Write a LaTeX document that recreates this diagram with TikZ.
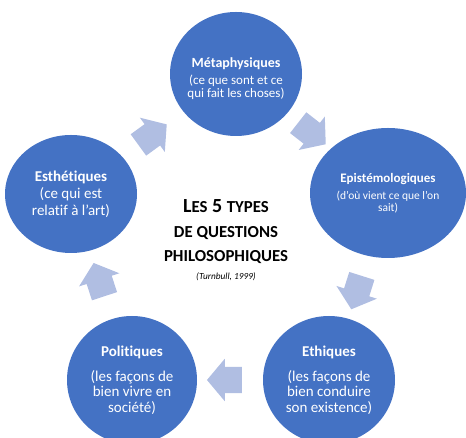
\documentclass[tikz,border=0pt]{standalone}
\usepackage{fontspec}
\setmainfont[Ligatures=NoCommon]{Carlito}
\usetikzlibrary{shapes.geometric,shapes.arrows}
\definecolor{bubc}{RGB}{68,114,196}
\definecolor{arrc}{RGB}{176,190,226}
\newcommand\smcap[1]{{\fontsize{16.8}{16.8}\selectfont #1}}
\begin{document}
\begin{tikzpicture}[x=1pt,y=1pt,
  bub/.style={ellipse, fill=bubc, draw=none, text=white, align=center, inner sep=-10pt},
  bubtxt/.style={text=white, align=center, inner sep=0pt},
  cyc/.style={single arrow, fill=arrc, draw=none, inner xsep=0pt, inner ysep=13pt,
    minimum height=35pt, minimum width=0pt, single arrow head extend=8pt,
    single arrow tip angle=100, sloped, allow upside down, outer sep=0pt},
  ttl/.style={anchor=base, font=\bfseries\fontsize{20}{20}\selectfont, text=black, inner sep=0pt}]
\useasboundingbox (0,0) rectangle (466,438);
\clip (0,0) rectangle (466,438);
\node[bub, minimum width=132pt, minimum height=124pt] (me) at (236,364) {};
\node[bubtxt, font=\fontsize{13}{12.5}\selectfont] (metx) at ([yshift=-4.5pt]me.center)
  {{\bfseries\fontsize{14}{12.5}\selectfont Métaphysiques}\\[5pt](ce que sont et ce\\qui fait les choses)};
\node[bub, minimum width=156pt, minimum height=130pt, font=\fontsize{11.5}{12}\selectfont] (ep) at (388,245)
  {{\bfseries\fontsize{13}{12}\selectfont Epistémologiques}\\[5pt](d’où vient ce que l’on\\sait)};
\node[bub, minimum width=132pt, minimum height=128pt, font=\fontsize{15}{15.5}\selectfont] (et) at (329,58)
  {{\bfseries Ethiques}\\[9.5pt](les façons de\\bien conduire\\son existence)};
\node[bub, minimum width=130pt, minimum height=128pt, font=\fontsize{15}{15.5}\selectfont] (po) at (132,58)
  {{\bfseries Politiques}\\[9.5pt](les façons de\\bien vivre en\\société)};
\node[bub, minimum width=132pt, minimum height=118pt, font=\fontsize{15}{17}\selectfont] (es) at (71,244)
  {{\bfseries Esthétiques}\\(ce qui est\\relatif à l’art)};
\path (es) -- node[cyc, pos=0.42] (a1) {} (me);
\path (me) -- node[cyc, pos=0.47] (a2) {} (ep);
\path (ep) -- node[cyc] (a3) {} (et);
\path (et) -- node[cyc] (a4) {} (po);
\path (po) -- node[cyc] (a5) {} (es);
\node[ttl] (t1) at (226,225) {L\smcap{ES} 5 \smcap{TYPES}};
\node[ttl] (t2) at (226,200.5) {\smcap{DE QUESTIONS}};
\node[ttl] (t3) at (226,176.5) {\smcap{PHILOSOPHIQUES}};
\node[anchor=base, inner sep=0pt, text=black, font=\itshape\fontsize{9.3}{9.3}\selectfont] (t4) at (226,158) {(Turnbull, 1999)};
\end{tikzpicture}
\end{document}
